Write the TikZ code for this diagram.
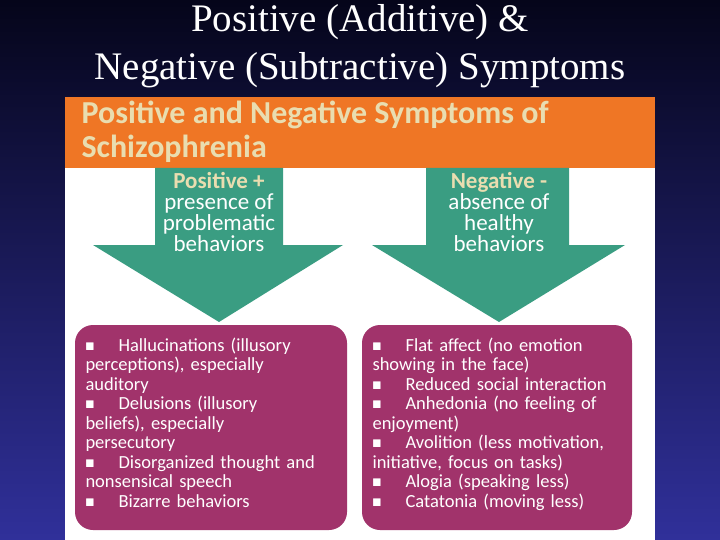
\documentclass[tikz,border=0pt]{standalone}
\usepackage{fontspec}
\usepackage{amssymb}
\setmainfont{Liberation Serif}
\newfontfamily\calfont{Carlito}
\definecolor{orng}{HTML}{EF7625}
\definecolor{grn}{HTML}{3A9D82}
\definecolor{purp}{HTML}{A1336B}
\definecolor{beige}{HTML}{E9DDB0}
\definecolor{bgtop}{HTML}{05051A}
\definecolor{bgbot}{HTML}{30309A}
\tikzset{
 arrowtxt/.style={align=center,text=white,font=\calfont\fontsize{23}{21}\selectfont},
 box/.style={fill=purp,rounded corners=18pt},
 list/.style={anchor=north west,text=white,text width=265pt,align=left,font=\calfont\fontsize{18.5}{19.5}\selectfont},
 arr/.style={fill=grn}
}
\newcommand{\bul}[1]{\hangindent=33pt\hangafter=1\makebox[33pt][l]{\raisebox{1pt}{\scalebox{0.6}{$\blacksquare$}}}#1\par}
\begin{document}
\begin{tikzpicture}[x=1pt,y=-1pt]
\shade[top color=bgtop,bottom color=bgbot] (0,0) rectangle (720,540);
\useasboundingbox (0,0) rectangle (720,540);
\node[text=white,align=center,font=\fontsize{39}{48}\selectfont] (title) at (360,46) {Positive (Additive) \&\\Negative (Subtractive) Symptoms};
\fill[white] (65,97) rectangle (655,540);
\fill[orng] (65,97) rectangle (655,168);
\node[anchor=west,text=beige,align=left,font=\calfont\bfseries\fontsize{32}{34}\selectfont] (head) at (78,132) {Positive and Negative Symptoms of\\Schizophrenia};
\fill[arr] (155,168) -- (283,168) -- (283,245) -- (343,245) -- (219,322) -- (93,245) -- (155,245) -- cycle;
\fill[arr] (426,168) -- (569,168) -- (569,245) -- (625,245) -- (499,322) -- (372,245) -- (426,245) -- cycle;
\node[arrowtxt] (pos) at (219,212) {{\bfseries\color{beige}Positive +}\\presence of\\problematic\\behaviors};
\node[arrowtxt] (neg) at (499,212) {{\bfseries\color{beige}Negative -}\\absence of\\healthy\\behaviors};
\fill[box] (75,325) rectangle (347,530);
\fill[box] (362,325) rectangle (632,530);
\node[list] (l) at (82,334) {\bul{Hallucinations (illusory\\ perceptions), especially\\ auditory}\bul{Delusions (illusory\\ beliefs), especially\\ persecutory}\bul{Disorganized thought and\\ nonsensical speech}\bul{Bizarre behaviors}};
\node[list] (r) at (369,334) {\bul{Flat affect (no emotion\\ showing in the face)}\bul{Reduced social interaction}\bul{Anhedonia (no feeling of\\ enjoyment)}\bul{Avolition (less motivation,\\ initiative, focus on tasks)}\bul{Alogia (speaking less)}\bul{Catatonia (moving less)}};
\end{tikzpicture}
\end{document}
